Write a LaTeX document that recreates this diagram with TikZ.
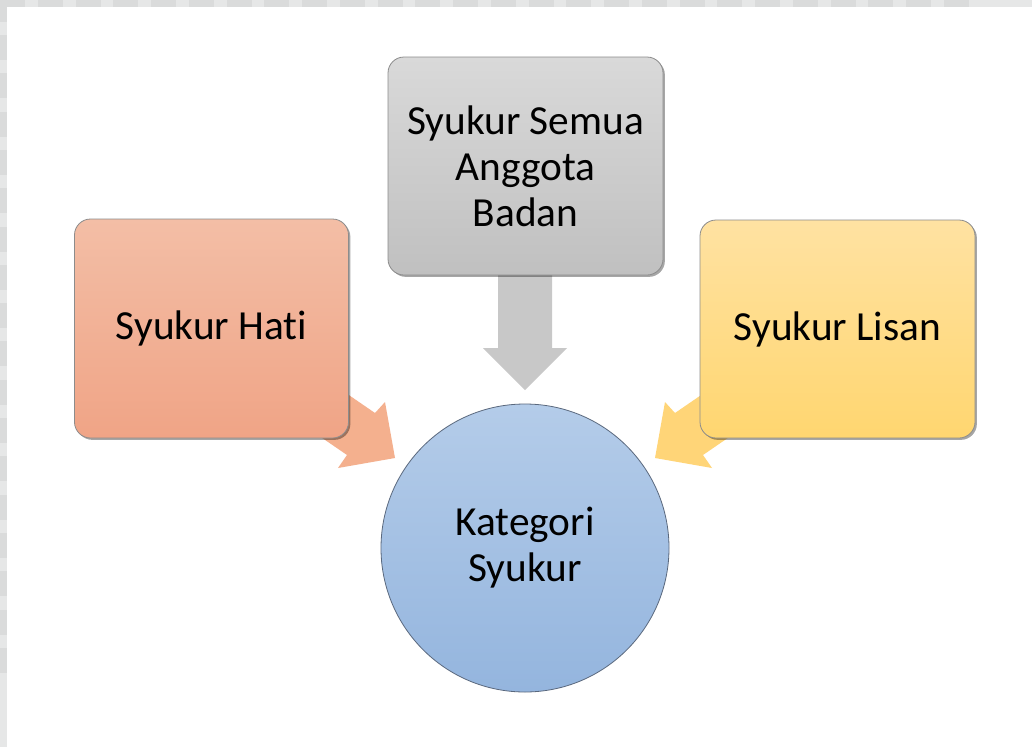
\documentclass[tikz,border=0pt]{standalone}
\usepackage{fontspec}
\setmainfont{Carlito}[RawFeature=-liga]
\usetikzlibrary{shadows}
\definecolor{chklight}{RGB}{230,231,231}
\definecolor{chkdark}{RGB}{218,219,219}
\definecolor{salmonT}{RGB}{243,190,166}
\definecolor{salmonB}{RGB}{240,164,134}
\definecolor{salmonArrow}{RGB}{244,176,142}
\definecolor{grayT}{RGB}{217,217,217}
\definecolor{grayB}{RGB}{192,192,192}
\definecolor{grayArrow}{RGB}{200,200,200}
\definecolor{goldT}{RGB}{255,226,162}
\definecolor{goldB}{RGB}{255,214,112}
\definecolor{goldArrow}{RGB}{255,213,120}
\definecolor{blueT}{RGB}{180,204,233}
\definecolor{blueB}{RGB}{148,181,222}
\definecolor{blueEdge}{RGB}{90,104,125}
\tikzset{
  card/.style={rectangle, rounded corners=12pt, draw=black!45, line width=0.6pt,
    inner sep=0pt, align=center, font=\fontsize{31}{34.5}\selectfont,
    general shadow={shadow xshift=1.4pt, shadow yshift=-1.4pt, fill=black, opacity=0.35}},
  hub/.style={circle, draw=blueEdge, line width=0.6pt, inner sep=0pt, align=center,
    minimum size=216pt, top color=blueT, bottom color=blueB,
    font=\fontsize{31}{34.5}\selectfont},
}
\begin{document}
\begin{tikzpicture}[x=0.75pt,y=-0.75pt]
\useasboundingbox (0,0) rectangle (1032,747);
\fill[white] (0,0) rectangle (1032,747);
% checkered strips along the top and left edges
\fill[chklight] (0,0) rectangle (1032,7);
\fill[chklight] (0,0) rectangle (7,747);
\foreach \k in {0,...,25}
  \fill[chkdark] ({\k*37.75},0) rectangle ({\k*37.75+25},7);
\fill[chkdark] (0,7) rectangle (7,21.7);
\foreach \k in {0,...,16}
  \fill[chkdark] (0,{35+\k*38.3}) rectangle (7,{60+\k*38.3});

% block arrows (behind the cards)
\fill[salmonArrow] (308,367) -- (375,413) -- (385,402) -- (395,458)
  -- (338,468) -- (347,455) -- (280,409) -- cycle;
\fill[goldArrow] (742,367) -- (675,413) -- (665,402) -- (655,458)
  -- (712,468) -- (703,455) -- (770,409) -- cycle;
\fill[grayArrow] (498,270) -- (552,270) -- (552,348) -- (567,348)
  -- (525,390) -- (483,348) -- (498,348) -- cycle;

% cards
\node[card, top color=salmonT, bottom color=salmonB,
  minimum width=205.5pt, minimum height=164.25pt] (hati) at (211.5,328.5) {Syukur Hati};
\node[card, top color=grayT, bottom color=grayB,
  minimum width=206.25pt, minimum height=163.5pt] (badan) at (525.5,166)
  {Syukur Semua\\Anggota\\Badan};
\node[card, top color=goldT, bottom color=goldB,
  minimum width=206.25pt, minimum height=163.5pt] (lisan) at (837.5,329) {Syukur Lisan};

% central circle
\node[hub] (kategori) at (525,548) {Kategori\\Syukur};
\end{tikzpicture}
\end{document}
